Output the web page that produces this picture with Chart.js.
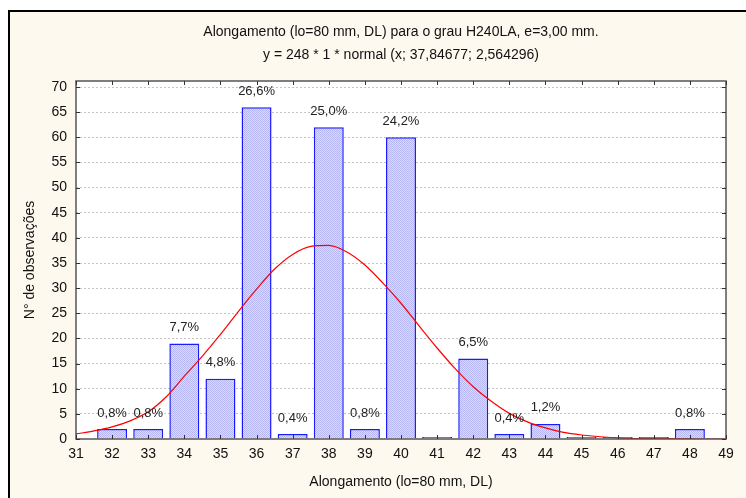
<!DOCTYPE html>
<html>
<head>
<meta charset="utf-8">
<script src="https://cdn.jsdelivr.net/npm/chart.js@4/dist/chart.umd.min.js"></script>
<style>
  html, body { margin: 0; padding: 0; background: #fff; }
  canvas { display: block; }
</style>
</head>
<body>
<canvas id="histo" width="746" height="498"></canvas>
<script>
// classes (mm) and counts
const classes = [32, 33, 34, 35, 36, 37, 38, 39, 40, 41, 42, 43, 44, 45, 46, 47, 48]
const counts = [2, 2, 19, 12, 66, 1, 62, 2, 60, 0, 16, 1, 3, 0, 0, 0, 2]
const total = 248

// fitted normal curve
const curveX = [31, 31.5, 32, 32.5, 33, 33.5, 34, 34.5, 35, 35.5, 36, 36.5, 37, 37.5, 38, 38.5, 39, 39.5, 40, 40.5, 41, 41.5, 42, 42.5, 43, 43.5, 44, 44.5, 45, 46, 47, 48, 49]
const curveY = [1.0, 1.6, 2.4, 3.6, 5.4, 8.4, 12.5, 16.5, 20.8, 25.4, 29.8, 33.8, 36.7, 38.3, 38.5, 37.2, 34.6, 31.0, 27.0, 22.5, 18.1, 14.0, 10.4, 7.5, 5.1, 3.4, 2.2, 1.3, 0.8, 0.2, 0.06, 0.01, 0]

const xTicks = [31, 32, 33, 34, 35, 36, 37, 38, 39, 40, 41, 42, 43, 44, 45, 46, 47, 48, 49]
const yTicks = [0, 5, 10, 15, 20, 25, 30, 35, 40, 45, 50, 55, 60, 65, 70]

const titleLines = [
    'Alongamento (lo=80 mm, DL) para o grau H240LA, e=3,00 mm.',
    'y = 248 * 1 * normal (x; 37,84677; 2,564296)'
]
const xTitle = 'Alongamento (lo=80 mm, DL)'
const yTitle = 'N° de observações'

const FONT = '"Liberation Sans", Arial, sans-serif'

// light blue fine hatch like the original
const makePattern = () => {
    const c = document.createElement('canvas')
    c.width = 2
    c.height = 2
    const g = c.getContext('2d')
    g.fillStyle = '#dadafc'
    g.fillRect(0, 0, 2, 2)
    g.fillStyle = '#b6b6f2'
    g.fillRect(0, 0, 1, 1)
    g.fillRect(1, 1, 1, 1)
    return g.createPattern(c, 'repeat')
}

const pct = v => (v / total * 100).toFixed(1).replace('.', ',') + '%'

const frame = {
    id: 'frame',
    beforeDraw(chart) {
        const { ctx, chartArea: a, width, height } = chart
        ctx.save()
        ctx.fillStyle = '#ffffff'
        ctx.fillRect(0, 0, width, height)
        ctx.fillStyle = '#fdf9ee'
        ctx.fillRect(10, 12, width - 10, height - 12)
        ctx.fillStyle = '#000'
        ctx.fillRect(8, 10, width - 8, 2)
        ctx.fillRect(8, 10, 2, height - 10)
        ctx.fillStyle = '#ffffff'
        ctx.fillRect(a.left, a.top, a.right - a.left, a.bottom - a.top)
        ctx.restore()
    },
    afterDatasetsDraw(chart) {
        const { ctx, chartArea: a, scales: { x, y } } = chart
        ctx.save()
        // bar percentage labels
        const meta = chart.getDatasetMeta(0)
        ctx.font = '13px ' + FONT
        ctx.fillStyle = '#222'
        ctx.textAlign = 'center'
        ctx.textBaseline = 'middle'
        meta.data.forEach((bar, i) => {
            if (counts[i] > 0) ctx.fillText(pct(counts[i]), bar.x, bar.y - 16)
        })
        // plot frame
        ctx.strokeStyle = '#555'
        ctx.lineWidth = 1.5
        ctx.strokeRect(a.left, a.top, a.right - a.left, a.bottom - a.top)
        // inner tick marks on all four sides
        ctx.lineWidth = 1
        ctx.strokeStyle = '#333'
        ctx.beginPath()
        xTicks.forEach(v => {
            const px = Math.round(x.getPixelForValue(v)) + 0.5
            ctx.moveTo(px, a.bottom)
            ctx.lineTo(px, a.bottom - 4)
            ctx.moveTo(px, a.top)
            ctx.lineTo(px, a.top + 4)
        })
        yTicks.forEach(v => {
            const py = Math.round(y.getPixelForValue(v)) + 0.5
            ctx.moveTo(a.left, py)
            ctx.lineTo(a.left + 4, py)
            ctx.moveTo(a.right, py)
            ctx.lineTo(a.right - 4, py)
        })
        ctx.stroke()
        ctx.restore()
    }
}

const context = document.getElementById('histo').getContext('2d')

const chart = new Chart(context, {
    type: 'bar',
    data: {
        datasets: [{
            type: 'bar',
            data: classes.map((c, i) => ({ x: c, y: counts[i] })),
            backgroundColor: makePattern(),
            borderColor: '#1a1aff',
            borderWidth: 1.5,
            borderSkipped: 'bottom',
            barPercentage: 0.83,
            categoryPercentage: 1,
            minBarLength: 2,
            order: 1
        }, {
            type: 'line',
            data: curveX.map((v, i) => ({ x: v, y: curveY[i] })),
            borderColor: '#ff0000',
            borderWidth: 1.2,
            pointRadius: 0,
            tension: 0.4,
            cubicInterpolationMode: 'monotone',
            fill: false,
            order: 0
        }]
    },
    options: {
        responsive: false,
        devicePixelRatio: 1,
        animation: false,
        layout: { padding: { left: 10, top: 12, right: 20, bottom: 0 } },
        plugins: {
            legend: { display: false },
            tooltip: { enabled: false },
            title: {
                display: true,
                fullSize: false,
                text: titleLines,
                color: '#111',
                font: { family: FONT, size: 14, weight: 'normal', lineHeight: 23 / 14 },
                padding: { top: 8.5, bottom: 14.5 }
            }
        },
        scales: {
            x: {
                type: 'linear',
                min: 31,
                max: 49,
                offset: false,
                afterBuildTicks: s => { s.ticks = xTicks.map(v => ({ value: v })) },
                afterFit: s => { s.height = 59 },
                grid: { display: false, drawTicks: false },
                border: { display: false },
                ticks: { padding: 7, color: '#111', font: { family: FONT, size: 14 }, maxRotation: 0, autoSkip: false },
                title: {
                    display: true,
                    text: xTitle,
                    color: '#111',
                    font: { family: FONT, size: 14 },
                    padding: { top: 0, bottom: 7.6 }
                }
            },
            y: {
                min: 0,
                max: 71.2,
                afterBuildTicks: s => { s.ticks = yTicks.map(v => ({ value: v })) },
                afterFit: s => { s.width = 66 },
                grid: {
                    drawTicks: false,
                    color: c => c.tick && c.tick.value === 0 ? 'rgba(0,0,0,0)' : '#c4c4c4',
                    lineWidth: 1
                },
                border: { display: false, dash: [2, 2] },
                ticks: { padding: 9, color: '#111', font: { family: FONT, size: 14 } },
                title: {
                    display: true,
                    text: yTitle,
                    color: '#111',
                    font: { family: FONT, size: 14 },
                    padding: { top: 11.6, bottom: 0 }
                }
            }
        }
    },
    plugins: [frame]
})
</script>
</body>
</html>
